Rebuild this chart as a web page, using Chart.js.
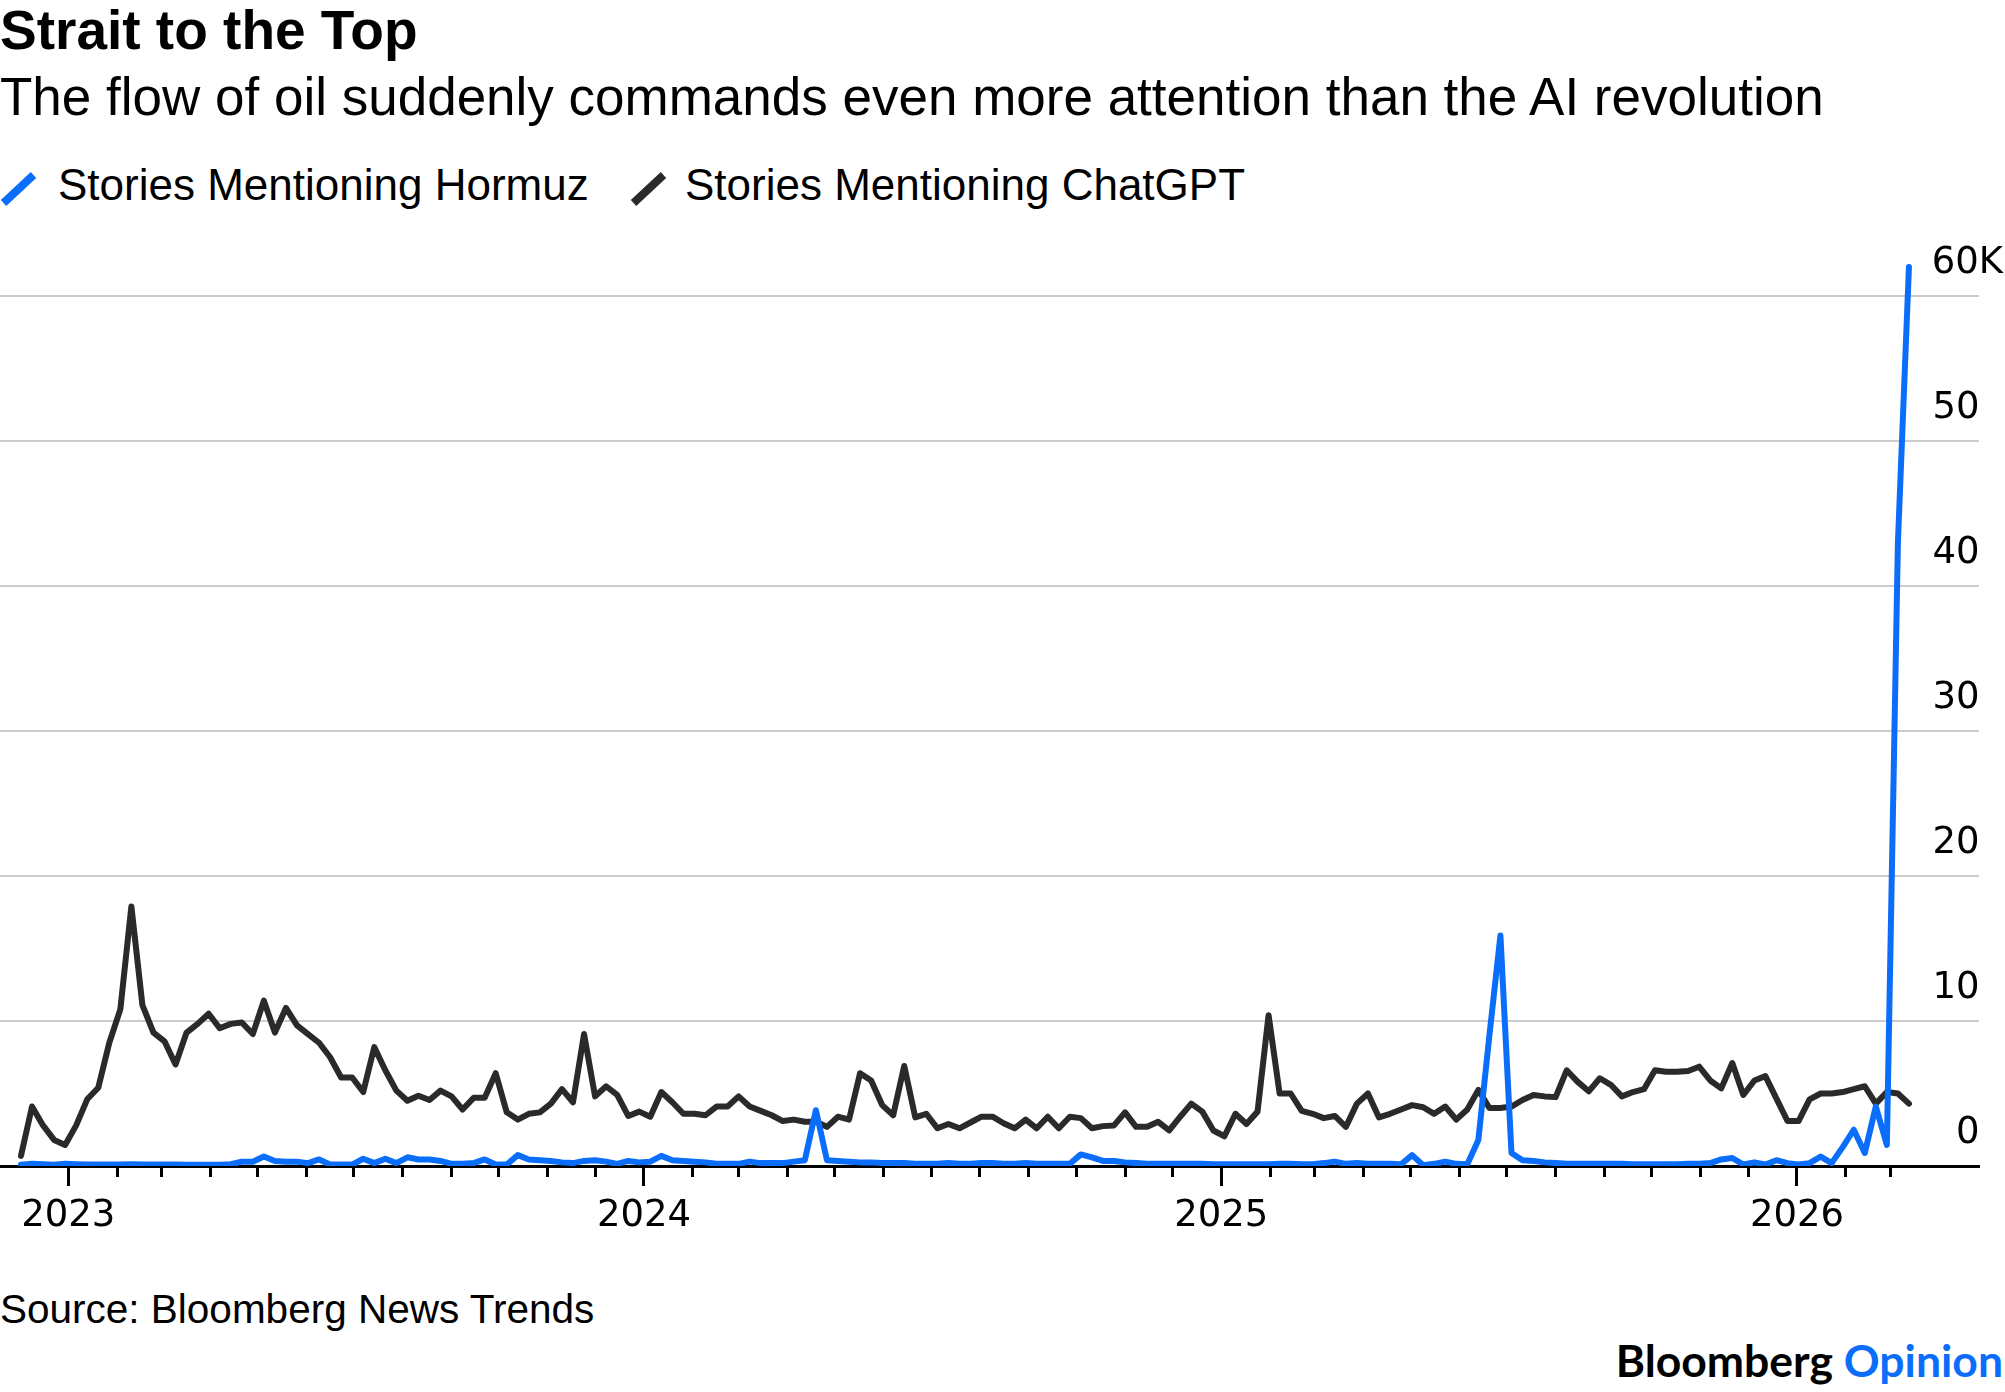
<!DOCTYPE html>
<html>
<head>
<meta charset="utf-8">
<title>Strait to the Top</title>
<script src="https://cdn.jsdelivr.net/npm/chart.js@4/dist/chart.umd.min.js"></script>
<style>
  html, body { margin: 0; padding: 0; background: #fff; }
  body { width: 2005px; height: 1392px; position: relative; overflow: hidden;
         font-family: "Liberation Sans", Arial, sans-serif; color: #000; }
  .txt { position: absolute; white-space: nowrap; }
  #title { left: 0; top: 3px; font-size: 55px; line-height: 55px; font-weight: bold; }
  #subtitle { left: 0; top: 70px; font-size: 53px; line-height: 53px; }
  .legtext { top: 163px; font-size: 44px; line-height: 44px; }
  .swatch { position: absolute; width: 41px; height: 8px; transform: rotate(-43deg); }
  #source { left: 0; top: 1289px; font-size: 40.5px; line-height: 40.5px; }
  #brand { right: 2px; top: 1338px; font-family: Lato, "Liberation Sans", sans-serif;
           font-weight: bold; font-size: 44.5px; line-height: 44.5px; }
  #brand span { color: #0a6efa; }
  #wrap { position: absolute; left: 0; top: 230px; width: 2005px; height: 1027px; }
</style>
</head>
<body>
<div id="title" class="txt">Strait to the Top</div>
<div id="subtitle" class="txt">The flow of oil suddenly commands even more attention than the AI revolution</div>

<div class="swatch" style="left:-2px; top:185px; background:#0a6efa;"></div>
<div class="txt legtext" style="left:58px;">Stories Mentioning Hormuz</div>
<div class="swatch" style="left:628px; top:185px; background:#2a2a2a;"></div>
<div class="txt legtext" style="left:685px;">Stories Mentioning ChatGPT</div>

<div id="wrap"><canvas id="chart" width="2005" height="1027"></canvas></div>

<div id="source" class="txt">Source: Bloomberg News Trends</div>
<div id="brand" class="txt">Bloomberg <span>Opinion</span></div>

<script>
// weekly story counts, in thousands, first week ending 2 Dec 2022
const weekStart = Date.UTC(2022, 11, 2);
const dayMs = 86400000;

const hormuzK = [
  0.08, 0.15, 0.12, 0.08, 0.15, 0.12, 0.1, 0.1, 0.1, 0.1,
  0.12, 0.1, 0.1, 0.1, 0.1, 0.08, 0.08, 0.08, 0.08, 0.12,
  0.3, 0.3, 0.65, 0.35, 0.3, 0.3, 0.2, 0.45, 0.1, 0.1,
  0.1, 0.5, 0.2, 0.5, 0.2, 0.6, 0.45, 0.45, 0.35, 0.15,
  0.15, 0.2, 0.45, 0.1, 0.1, 0.75, 0.45, 0.4, 0.35, 0.25,
  0.2, 0.35, 0.4, 0.3, 0.15, 0.35, 0.25, 0.3, 0.7, 0.4,
  0.35, 0.3, 0.25, 0.15, 0.15, 0.15, 0.3, 0.2, 0.2, 0.2,
  0.3, 0.4, 3.85, 0.4, 0.35, 0.3, 0.25, 0.25, 0.2, 0.2,
  0.2, 0.15, 0.15, 0.15, 0.2, 0.15, 0.15, 0.2, 0.2, 0.15,
  0.15, 0.2, 0.15, 0.15, 0.15, 0.15, 0.8, 0.6, 0.35, 0.35,
  0.25, 0.2, 0.15, 0.15, 0.15, 0.15, 0.15, 0.15, 0.12, 0.12,
  0.12, 0.12, 0.12, 0.12, 0.15, 0.15, 0.12, 0.12, 0.2, 0.3,
  0.15, 0.2, 0.15, 0.15, 0.15, 0.12, 0.75, 0.05, 0.15, 0.3,
  0.15, 0.12, 1.8, 9.0, 15.9, 0.9, 0.4, 0.35, 0.25, 0.2,
  0.15, 0.15, 0.15, 0.15, 0.15, 0.15, 0.12, 0.12, 0.12, 0.12,
  0.12, 0.15, 0.15, 0.2, 0.45, 0.55, 0.1, 0.25, 0.1, 0.4,
  0.2, 0.1, 0.2, 0.65, 0.2, 1.3, 2.5, 0.9, 4.1, 1.45,
  43, 62
];

const chatgptK = [
  0.7, 4.1, 2.8, 1.8, 1.45, 2.8, 4.6, 5.4, 8.5, 10.8,
  17.9, 11.1, 9.2, 8.6, 7.0, 9.2, 9.8, 10.5, 9.5, 9.8,
  9.9, 9.1, 11.4, 9.2, 10.9, 9.7, 9.1, 8.5, 7.5, 6.1,
  6.1, 5.1, 8.2, 6.6, 5.2, 4.5, 4.85, 4.55, 5.2, 4.8,
  3.9, 4.7, 4.7, 6.4, 3.7, 3.2, 3.6, 3.7, 4.3, 5.3,
  4.4, 9.1, 4.8, 5.5, 4.9, 3.45, 3.75, 3.4, 5.1, 4.4,
  3.6, 3.6, 3.5, 4.1, 4.1, 4.8, 4.1, 3.8, 3.5, 3.1,
  3.2, 3.05, 3.05, 2.7, 3.4, 3.2, 6.4, 5.9, 4.2, 3.5,
  6.9, 3.35, 3.6, 2.6, 2.9, 2.6, 3.0, 3.4, 3.4, 2.95,
  2.6, 3.2, 2.6, 3.4, 2.6, 3.4, 3.3, 2.6, 2.75, 2.8,
  3.7, 2.7, 2.7, 3.05, 2.45, 3.4, 4.3, 3.75, 2.45, 2.05,
  3.6, 2.9, 3.75, 10.4, 5.0, 5.0, 3.8, 3.6, 3.3, 3.45,
  2.7, 4.3, 5.0, 3.35, 3.6, 3.9, 4.2, 4.05, 3.6, 4.1,
  3.2, 3.9, 5.25, 4.0, 4.0, 4.1, 4.55, 4.9, 4.8, 4.75,
  6.6, 5.8, 5.15, 6.05, 5.6, 4.8, 5.1, 5.3, 6.6, 6.5,
  6.5, 6.55, 6.85, 5.9, 5.35, 7.1, 4.9, 5.9, 6.2, 4.65,
  3.1, 3.1, 4.6, 5.0, 5.0, 5.1, 5.3, 5.5, 4.3, 5.1,
  5.0, 4.3
];

const yTickValues = [0, 10, 20, 30, 40, 50, 60];
const yearLabels = ['2023', '2024', '2025', '2026'];
const firstTickMonth = [2023, 0];
const lastTickMonth = [2026, 2];

const blue = '#0a6efa';
const dark = '#2a2a2a';

const weekDates = chatgptK.map((_, i) => weekStart + i * 7 * dayMs);
const toPoints = vals => vals.map((v, i) => ({ x: weekDates[i], y: v }));

const monthTicks = [];
for (let y = firstTickMonth[0]; y <= lastTickMonth[0]; y++) {
  for (let m = 0; m < 12; m++) {
    if (y === firstTickMonth[0] && m < firstTickMonth[1]) continue;
    if (y === lastTickMonth[0] && m > lastTickMonth[1]) break;
    monthTicks.push(Date.UTC(y, m, 1));
  }
}
const yearTicks = yearLabels.map(l => Date.UTC(+l, 0, 1));

// visible date window of the plot
const xMin = Date.UTC(2022, 10, 18, 17);
const xMax = Date.UTC(2026, 3, 26, 10);

function noEdgePadding(s) {
  s.paddingTop = 0;
  s.paddingBottom = 0;
  s.paddingLeft = 0;
  s.paddingRight = 0;
}

new Chart(document.getElementById('chart'), {
  type: 'line',
  data: {
    datasets: [
      {
        label: 'Stories Mentioning Hormuz',
        data: toPoints(hormuzK),
        borderColor: blue,
        borderWidth: 6,
        pointRadius: 0,
        tension: 0,
        borderJoinStyle: 'round',
        borderCapStyle: 'round'
      },
      {
        label: 'Stories Mentioning ChatGPT',
        data: toPoints(chatgptK),
        borderColor: dark,
        borderWidth: 6,
        pointRadius: 0,
        tension: 0,
        borderJoinStyle: 'round',
        borderCapStyle: 'round'
      }
    ]
  },
  options: {
    responsive: false,
    animation: false,
    events: [],
    layout: { padding: { top: 8, right: 26, left: 0, bottom: 0 } },
    plugins: { legend: { display: false }, tooltip: { enabled: false } },
    scales: {
      x: {
        type: 'linear',
        position: 'bottom',
        weight: 0,
        min: xMin,
        max: xMax,
        afterBuildTicks: s => { s.ticks = monthTicks.map(v => ({ value: v })); },
        afterFit: s => { s.height = 11; noEdgePadding(s); },
        grid: { drawOnChartArea: false, drawTicks: true, tickLength: 11, tickWidth: 3, tickColor: '#000' },
        border: { display: true, color: '#000', width: 3 },
        ticks: { display: false, autoSkip: false }
      },
      x2: {
        type: 'linear',
        position: 'bottom',
        weight: 1,
        min: xMin,
        max: xMax,
        afterBuildTicks: s => { s.ticks = yearTicks.map(v => ({ value: v })); },
        afterFit: s => { s.height = 80; noEdgePadding(s); },
        grid: { drawOnChartArea: false, drawTicks: true, tickLength: 9, tickWidth: 3, tickColor: '#000' },
        border: { display: false },
        ticks: {
          autoSkip: false,
          maxRotation: 0,
          padding: 8,
          color: '#000',
          font: { family: '"DejaVu Sans", sans-serif', size: 37 },
          callback: v => yearLabels[yearTicks.indexOf(v)]
        }
      },
      y: {
        position: 'right',
        min: 0,
        max: 64,
        afterBuildTicks: s => { s.ticks = yTickValues.map(v => ({ value: v })); },
        afterFit: s => { s.width = 0; noEdgePadding(s); },
        grid: { color: '#cccccc', lineWidth: 2, drawTicks: false },
        border: { display: false },
        ticks: {
          mirror: true,
          padding: 24,
          labelOffset: -33,
          color: '#000',
          font: { family: '"DejaVu Sans", sans-serif', size: 37 },
          callback: v => (v === 60 ? '60K' : v + '\u2007')
        }
      }
    }
  }
});
</script>
</body>
</html>
